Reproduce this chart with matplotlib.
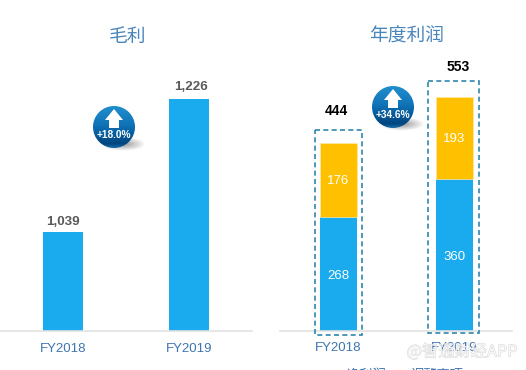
import numpy as np
import matplotlib
matplotlib.use('Agg')
import matplotlib.pyplot as plt
import matplotlib.patheffects as pe
from matplotlib.patches import Rectangle, Circle, Polygon

plt.rcParams['font.family'] = ['Noto Sans CJK SC', 'DejaVu Sans']

years = ['FY2018', 'FY2019']
gross_profit = [1039, 1226]
net_profit = [268, 360]
adjustments = [176, 193]
profit_totals = [444, 553]

W, H = 526, 370
BLUE = '#1AAAEE'
YELLOW = '#FFC000'
TITLE = '#4A86BC'
TICK = '#3F75B0'
AXIS = '#E2E2E2'
DASH = '#2F86AE'


def px_axes(fig, x0, x1, y_top, y_bottom):
    return fig.add_axes([x0 / W, 1 - y_bottom / H, (x1 - x0) / W, (y_bottom - y_top) / H])


def clean(ax, pad):
    for s in ['top', 'left', 'right']:
        ax.spines[s].set_visible(False)
    ax.spines['bottom'].set_color(AXIS)
    ax.spines['bottom'].set_linewidth(1.2)
    ax.set_yticks([])
    ax.set_xticks([0, 1])
    ax.set_xticklabels(years, color=TICK, fontsize=9.5, family='Liberation Sans')
    ax.tick_params(axis='x', length=0, pad=pad)
    ax.patch.set_alpha(0)


def badge(ax, cx, cy, label):
    r = 21
    # shadow
    yy, xx = np.mgrid[-1:1:60j, -1:1:120j]
    sh = np.clip(1 - np.sqrt(xx ** 2 + yy ** 2), 0, 1)
    rgba = np.zeros(sh.shape + (4,))
    rgba[..., 3] = sh * 0.42
    ax.imshow(rgba, extent=(cx - 14, cx + 32, cy + 24, cy + 10), zorder=3, aspect='auto')
    # blue ball, a bit lighter on the lower rim
    stops = [0, 0.45, 0.9, 1]
    reds = [0.13, 0.06, 0.0, 0.10]
    greens = [0.56, 0.45, 0.27, 0.42]
    blues = [0.80, 0.72, 0.50, 0.66]
    g = np.linspace(0, 1, 100)
    img = np.dstack([np.interp(g, stops, c)[:, None] for c in (reds, greens, blues)])
    im = ax.imshow(img, extent=(cx - r, cx + r, cy + r, cy - r), zorder=4, aspect='auto')
    clip = Circle((cx, cy), r, transform=ax.transData)
    im.set_clip_path(clip)
    ax.add_patch(Polygon([(cx, cy - 18), (cx + 9, cy - 7), (cx + 5, cy - 7), (cx + 5, cy + 1),
                          (cx - 5, cy + 1), (cx - 5, cy - 7), (cx - 9, cy - 7)],
                         fc='white', ec='none', zorder=5))
    ax.text(cx, cy + 7.5, label, color='white', fontsize=7.3, fontweight='bold',
            family='Liberation Sans', ha='center', va='center', zorder=6)


fig = plt.figure(figsize=(W / 100, H / 100), dpi=100)

# left chart, axis does not start at zero
ax1 = px_axes(fig, 0, 252, 60, 330.5)
ax1.bar([0, 1], gross_profit, width=0.317, color=BLUE)
ax1.set_xlim(-0.5, 1.5)
ax1.set_ylim(901.5, 901.5 + (1226 - 901.5) * 270.5 / 231.5)
clean(ax1, 9)
for i, v in enumerate(gross_profit):
    ax1.annotate(f'{v:,}', (i, v), xytext=(i * 1.5, 3 + i), textcoords='offset points', ha='center', va='bottom',
                 color='#595959', fontsize=9.6, fontweight='bold', family='Liberation Sans')

# right chart
ax2 = px_axes(fig, 280, 512, 60, 330.5)
ax2.bar([0, 1], net_profit, width=0.32, color=BLUE)
ax2.bar([0, 1], adjustments, bottom=net_profit, width=0.32, color=YELLOW, edgecolor='#FFE9A8', linewidth=0.5)
ax2.set_xlim(-0.504, 1.496)
ax2.set_ylim(0, 270.5 / 0.422)
clean(ax2, 8)
for i in range(2):
    ax2.annotate(str(net_profit[i]), (i, net_profit[i] / 2), xytext=(0, -1.5), textcoords='offset points',
                 color='white', fontsize=9.5, family='Liberation Sans', ha='center', va='center')
    ax2.annotate(str(adjustments[i]), (i, net_profit[i] + adjustments[i] / 2), xytext=(0, -0.8),
                 textcoords='offset points', color='white', fontsize=9.5, family='Liberation Sans',
                 ha='center', va='center')

# overlay in pixel coordinates
ov = fig.add_axes([0, 0, 1, 1])
ov.set_xlim(0, W)
ov.set_ylim(H, 0)
ov.axis('off')
ov.patch.set_alpha(0)

ov.text(128, 36, '毛利', color=TITLE, fontsize=13.5, ha='center', va='center')
ov.text(407, 36, '年度利润', color=TITLE, fontsize=13.5, ha='center', va='center')

ov.text(336, 111, str(profit_totals[0]), color='black', fontsize=10, fontweight='bold',
        family='Liberation Sans', ha='center', va='center')
ov.text(458, 67, str(profit_totals[1]), color='black', fontsize=10, fontweight='bold',
        family='Liberation Sans', ha='center', va='center')

ov.add_patch(Rectangle((315, 129.5), 47, 205, fc='none', ec=DASH, lw=1.2, ls=(0, (3, 2))))
ov.add_patch(Rectangle((428, 80.5), 51, 252, fc='none', ec=DASH, lw=1.2, ls=(0, (3, 2))))

badge(ov, 114, 127, '+18.0%')
badge(ov, 393, 107, '+34.6%')

ov.set_xlim(0, W)
ov.set_ylim(H, 0)

# legend cut by the bottom edge
ov.text(366, 375, '净利润', color=TICK, fontsize=9.5, ha='center', va='center', clip_on=True)
ov.text(437, 375, '调整事项', color=TICK, fontsize=9.5, ha='center', va='center', clip_on=True)

wm = ov.text(462, 352, '@智通财经APP', color='white', alpha=0.35, fontsize=11.7, ha='center', va='center', zorder=8)
wm.set_path_effects([pe.withStroke(linewidth=0.5, foreground='#BDBDBD', alpha=0.7), pe.Normal()])

fig.savefig('out.png', dpi=100)
